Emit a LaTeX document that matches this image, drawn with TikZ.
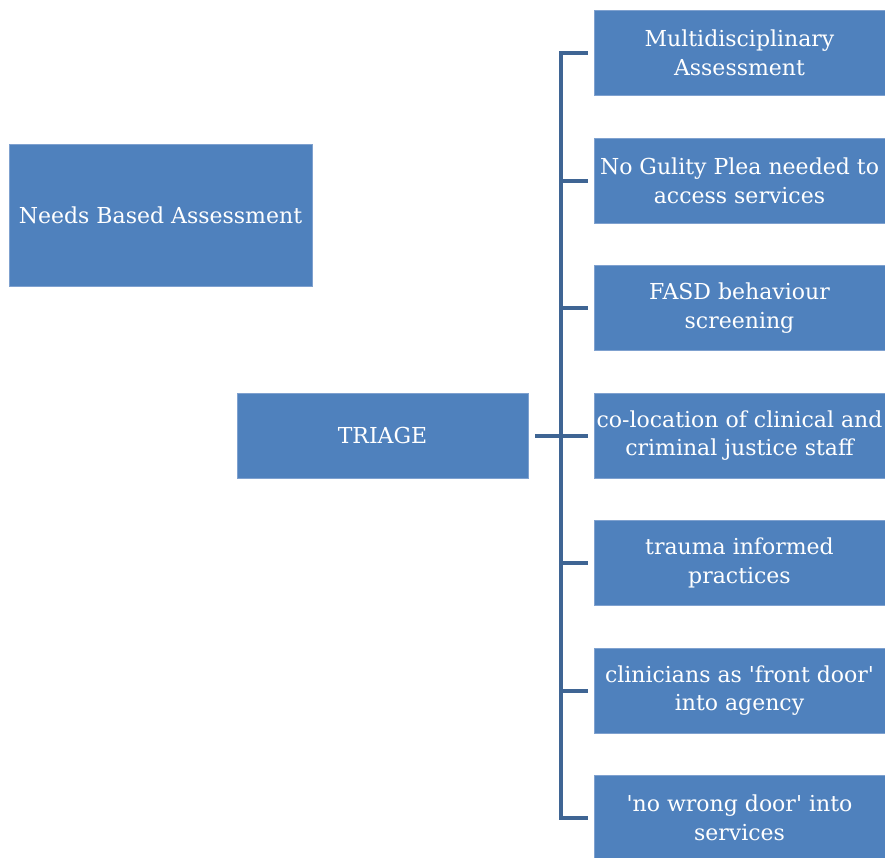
\documentclass[tikz,border=0pt]{standalone}
\usepackage{fontspec}
\setmainfont{DejaVu Serif}
\definecolor{boxblue}{HTML}{4F81BD}
\definecolor{boxedge}{HTML}{7FA1CF}
\definecolor{linkblue}{HTML}{3F6594}
\newcommand{\sq}{\textquotesingle}
\begin{document}
\begin{tikzpicture}[x=1pt,y=-1pt,
  box/.style={draw=boxedge,line width=0.8pt,fill=boxblue,text=white,align=center,
    font=\fontsize{22}{28.5}\selectfont,inner sep=0pt},
  link/.style={draw=linkblue,line width=4pt}]
\useasboundingbox (0,0) rectangle (885,857);
\begin{scope}
\clip (0,0) rectangle (885,857);
\node[box,minimum width=303pt,minimum height=142pt] (needs) at (160.5,215) {Needs Based Assessment};
\node[box,minimum width=291pt,minimum height=85pt] (triage) at (382.5,435.5) {TRIAGE};
\node[box,minimum width=291pt,minimum height=85pt] (b1) at (739.5,53) {Multidisciplinary\\Assessment};
\node[box,minimum width=291pt,minimum height=85pt] (b2) at (739.5,181) {No Gulity Plea needed to\\access services};
\node[box,minimum width=291pt,minimum height=85pt] (b3) at (739.5,308) {FASD behaviour\\screening};
\node[box,minimum width=291pt,minimum height=85pt] (b4) at (739.5,435.5) {co-location of clinical and\\criminal justice staff};
\node[box,minimum width=291pt,minimum height=85pt] (b5) at (739.5,563) {trauma informed\\practices};
\node[box,minimum width=291pt,minimum height=85pt] (b6) at (739.5,690.5) {clinicians as \sq front door\sq\\into agency};
\node[box,minimum width=291pt,minimum height=85pt] (b7) at (739.5,818) {\sq no wrong door\sq\ into\\services};
\end{scope}
\coordinate (spine top) at (561,53);
\coordinate (spine bot) at (561,818);
\draw[link] ([xshift=-6pt]b1.west) -- (spine top) -- (spine bot) -- ([xshift=-6pt]b7.west);
\foreach \b in {b2,b3,b4,b5,b6}{
  \draw[link] (561,0 |- \b.west) -- ([xshift=-6pt]\b.west);
}
\draw[link] ([xshift=7pt]triage.east) -- (561,435.5);
\end{tikzpicture}
\end{document}
